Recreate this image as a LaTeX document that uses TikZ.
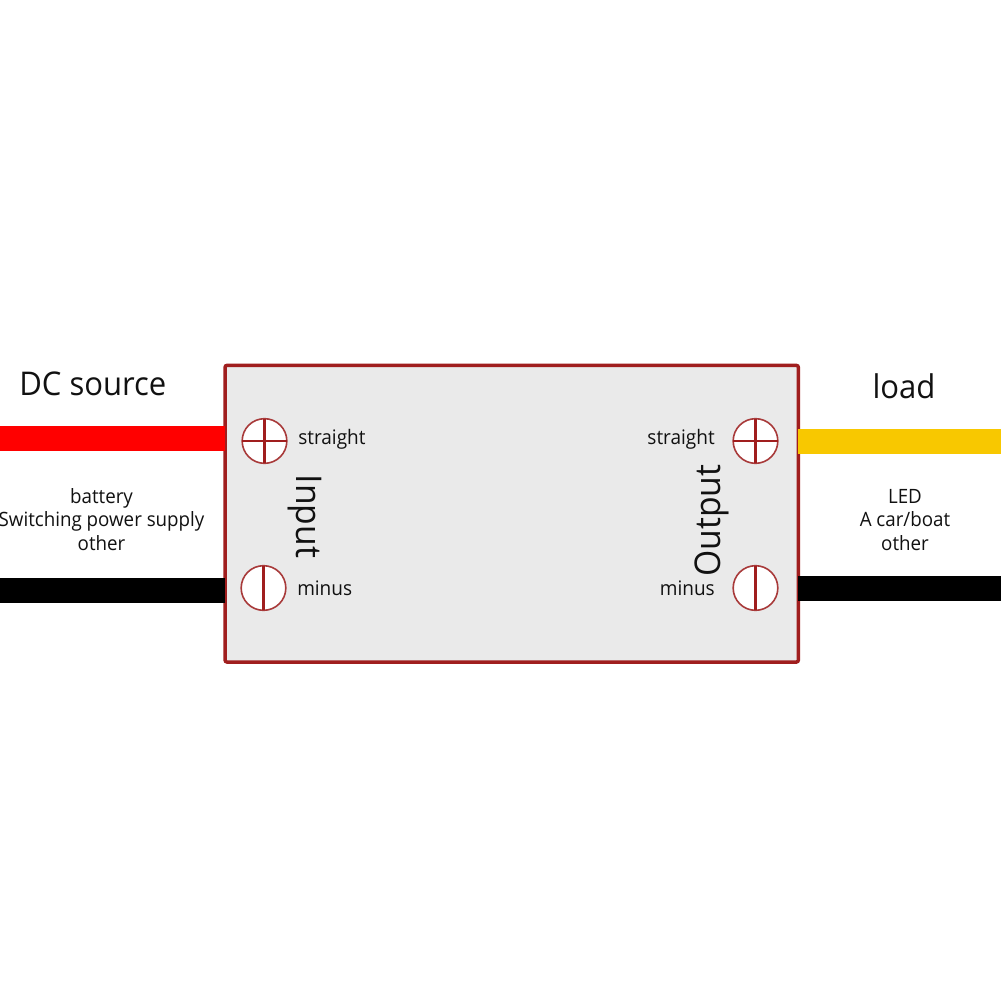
\documentclass[tikz,border=0pt]{standalone}
\usepackage{fontspec}
\setmainfont[FakeStretch=0.95]{Open Sans}
\definecolor{boxred}{HTML}{A01E1E}
\definecolor{ringred}{HTML}{A83A3A}
\definecolor{boxfill}{HTML}{EAEAEA}
\definecolor{wirered}{HTML}{FF0000}
\definecolor{wireyellow}{HTML}{F8C800}
\definecolor{ink}{HTML}{111111}
\newcommand{\pxfont}[1]{\fontsize{#1}{#1}\selectfont}
\tikzset{
  x=0.75pt,y=-0.75pt,
  wire/.style={line width=18.75pt,line cap=butt},
  screw/.style={circle,draw=ringred,line width=1.2pt,fill=white,minimum size=33.5pt,inner sep=0pt,outer sep=0pt},
  slot/.style={draw=boxred,line width=2.1pt},
  small/.style={text=ink,font=\pxfont{15},inner sep=0pt},
  mid/.style={text=ink,font=\pxfont{14.8},inner sep=0pt,align=center},
  big/.style={text=ink,font=\pxfont{24.5},inner sep=0pt},
  side/.style={text=ink,font=\pxfont{26.6},inner sep=0pt},
}
\begin{document}
\begin{tikzpicture}
\useasboundingbox (0,0) rectangle (1001,1001);
\fill[white] (0,0) rectangle (1001,1001);
\coordinate (lt) at (0,438.5);
\coordinate (lb) at (0,590.5);
\coordinate (rt) at (1001,441.5);
\coordinate (rb) at (1001,588.5);
\node[draw=boxred,fill=boxfill,line width=2.6pt,rounded corners=1.5pt,minimum width=430pt,minimum height=222.5pt,inner sep=0pt,outer sep=0pt] (box) at (511.7,513.7) {};
\draw[wire,wirered] (lt) -- (lt -| box.west);
\draw[wire,black] (lb) -- (lb -| box.west);
\draw[wire,wireyellow] (rt) -- (rt -| box.east);
\draw[wire,black] (rb) -- (rb -| box.east);
\node[screw] (s1) at (264.5,441) {};
\node[screw] (s2) at (263.5,588) {};
\node[screw] (s3) at (755.5,441) {};
\node[screw] (s4) at (755.5,588) {};
\draw[slot] (s1.north) -- (s1.south);
\draw[slot] (s1.west) -- (s1.east);
\draw[slot] (s2.north) -- (s2.south);
\draw[slot] (s3.north) -- (s3.south);
\draw[slot] (s3.west) -- (s3.east);
\draw[slot] (s4.north) -- (s4.south);
\node[big,anchor=base west] (dc) at (19,395) {DC source};
\node[big,anchor=base] (load) at (904,398) {load};
\node[small,anchor=base west] (a) at (298,444) {straight};
\node[small,anchor=base west] (b) at (297,595) {minus};
\node[small,anchor=base east] (c) at (715,444) {straight};
\node[small,anchor=base east] (d) at (715,595) {minus};
\node[mid] (e) at (101.5,519.5) {battery\\[3pt]Switching power supply\\[3pt]other};
\node[mid] (f) at (905,520) {LED\\[3pt]A car/boat\\[3pt]other};
\node[side,rotate=-90,anchor=center] (g) at (305,516.5) {Input};
\node[side,rotate=90,anchor=center] (h) at (711.5,520.5) {Output};
\end{tikzpicture}
\end{document}
